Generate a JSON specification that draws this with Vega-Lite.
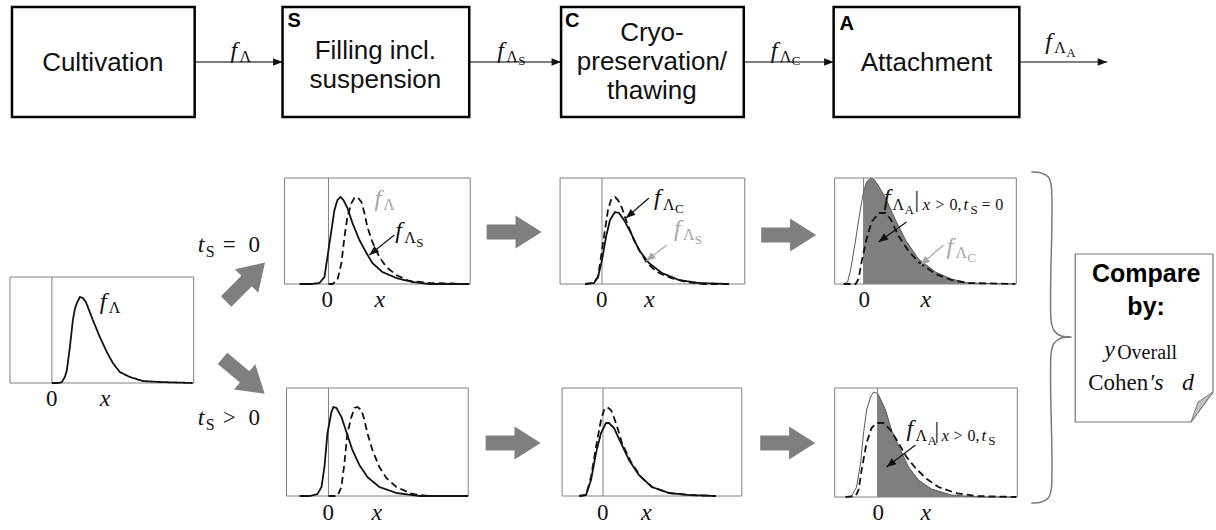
{
"$schema": "https://vega.github.io/schema/vega-lite/v6.json",
"width": 1216, "height": 530,
"autosize": {"type": "fit", "contains": "padding"},
"padding": 0,
"background": "white",
"config": {"view": {"stroke": null}},
"datasets": {
"boxes": [{"x":12,"x2":195,"y":7,"y2":117},{"x":283,"x2":470,"y":7,"y2":117},{"x":562,"x2":745,"y":7,"y2":117},{"x":835,"x2":1021,"y":7,"y2":117}],
"frames": [{"x":10,"x2":194,"y":277,"y2":383},{"x":285,"x2":471,"y":178,"y2":284},{"x":561,"x2":746,"y":178,"y2":284},{"x":836,"x2":1018,"y":178,"y2":284},{"x":287,"x2":469,"y":388,"y2":496},{"x":563,"x2":743,"y":388,"y2":496},{"x":836,"x2":1019,"y":388,"y2":497}],
"zeros": [{"x":52,"y":277,"y2":383},{"x":329,"y":178,"y2":284},{"x":603,"y":178,"y2":284},{"x":865,"y":178,"y2":284},{"x":329,"y":388,"y2":496},{"x":604,"y":388,"y2":496},{"x":879,"y":388,"y2":497}],
"flow": [{"x":195,"x2":283,"y":62,"y2":62},{"x":470,"x2":562,"y":62,"y2":62},{"x":745,"x2":835,"y":62,"y2":62},{"x":1021,"x2":1109,"y":62,"y2":62}],
"heads": [{"x":283,"y":62,"angle":0,"tone":"dark"},{"x":562,"y":62,"angle":0,"tone":"dark"},{"x":835,"y":62,"angle":0,"tone":"dark"},{"x":1109,"y":62,"angle":0,"tone":"dark"},
{"x":370,"y":255,"angle":141,"tone":"dark"},{"x":627,"y":218,"angle":139,"tone":"dark"},{"x":647,"y":261,"angle":143,"tone":"light"},{"x":880,"y":242,"angle":144,"tone":"dark"},{"x":922,"y":265,"angle":139,"tone":"light"},{"x":888,"y":467,"angle":143,"tone":"dark"}],
"pointers": [{"x":395,"y":235,"x2":370,"y2":255,"tone":"dark"},{"x":650,"y":198,"x2":627,"y2":218,"tone":"dark"},{"x":668,"y":245,"x2":647,"y2":261,"tone":"light"},{"x":908,"y":222,"x2":880,"y2":242,"tone":"dark"},{"x":945,"y":245,"x2":922,"y2":265,"tone":"light"},{"x":917,"y":445,"x2":888,"y2":467,"tone":"dark"}],
"bigArrows": [{"x":515,"y":232,"angle":0},{"x":790,"y":235,"angle":0},{"x":514,"y":443,"angle":0},{"x":789,"y":443,"angle":0},{"x":246,"y":282,"angle":-45},{"x":244,"y":376,"angle":40}],
"curves": [
{"id":"L","role":"output","x":52,"y":383},{"id":"L","role":"output","x":58,"y":383},{"id":"L","role":"output","x":62,"y":382},{"id":"L","role":"output","x":65,"y":377},{"id":"L","role":"output","x":67,"y":370},{"id":"L","role":"output","x":70,"y":347},{"id":"L","role":"output","x":73,"y":320},{"id":"L","role":"output","x":75,"y":309},{"id":"L","role":"output","x":77,"y":303},{"id":"L","role":"output","x":80,"y":297},{"id":"L","role":"output","x":83,"y":298},{"id":"L","role":"output","x":86,"y":302},{"id":"L","role":"output","x":88,"y":307},{"id":"L","role":"output","x":93,"y":320},{"id":"L","role":"output","x":100,"y":337},{"id":"L","role":"output","x":107,"y":352},{"id":"L","role":"output","x":113,"y":363},{"id":"L","role":"output","x":120,"y":372},{"id":"L","role":"output","x":130,"y":377},{"id":"L","role":"output","x":143,"y":381},{"id":"L","role":"output","x":160,"y":382},{"id":"L","role":"output","x":193,"y":383},
{"id":"1S_in","role":"input","x":329,"y":284},{"id":"1S_in","role":"input","x":333,"y":284},{"id":"1S_in","role":"input","x":338,"y":280},{"id":"1S_in","role":"input","x":342,"y":263},{"id":"1S_in","role":"input","x":345,"y":237},{"id":"1S_in","role":"input","x":348,"y":217},{"id":"1S_in","role":"input","x":352,"y":203},{"id":"1S_in","role":"input","x":355,"y":198},{"id":"1S_in","role":"input","x":358,"y":197},{"id":"1S_in","role":"input","x":362,"y":202},{"id":"1S_in","role":"input","x":365,"y":213},{"id":"1S_in","role":"input","x":368,"y":227},{"id":"1S_in","role":"input","x":373,"y":242},{"id":"1S_in","role":"input","x":380,"y":257},{"id":"1S_in","role":"input","x":387,"y":267},{"id":"1S_in","role":"input","x":397,"y":275},{"id":"1S_in","role":"input","x":410,"y":281},{"id":"1S_in","role":"input","x":430,"y":283},{"id":"1S_in","role":"input","x":470,"y":284},
{"id":"1S_out","role":"output","x":300,"y":284},{"id":"1S_out","role":"output","x":312,"y":284},{"id":"1S_out","role":"output","x":320,"y":283},{"id":"1S_out","role":"output","x":325,"y":277},{"id":"1S_out","role":"output","x":328,"y":257},{"id":"1S_out","role":"output","x":332,"y":230},{"id":"1S_out","role":"output","x":335,"y":210},{"id":"1S_out","role":"output","x":338,"y":200},{"id":"1S_out","role":"output","x":341,"y":197},{"id":"1S_out","role":"output","x":344,"y":200},{"id":"1S_out","role":"output","x":348,"y":208},{"id":"1S_out","role":"output","x":353,"y":223},{"id":"1S_out","role":"output","x":360,"y":240},{"id":"1S_out","role":"output","x":367,"y":253},{"id":"1S_out","role":"output","x":373,"y":263},{"id":"1S_out","role":"output","x":383,"y":272},{"id":"1S_out","role":"output","x":397,"y":278},{"id":"1S_out","role":"output","x":413,"y":282},{"id":"1S_out","role":"output","x":430,"y":284},{"id":"1S_out","role":"output","x":470,"y":284},
{"id":"1C_in","role":"input","x":586,"y":284},{"id":"1C_in","role":"input","x":594,"y":283},{"id":"1C_in","role":"input","x":599,"y":277},{"id":"1C_in","role":"input","x":602,"y":257},{"id":"1C_in","role":"input","x":606,"y":230},{"id":"1C_in","role":"input","x":609,"y":210},{"id":"1C_in","role":"input","x":612,"y":200},{"id":"1C_in","role":"input","x":616,"y":197},{"id":"1C_in","role":"input","x":619,"y":200},{"id":"1C_in","role":"input","x":623,"y":208},{"id":"1C_in","role":"input","x":628,"y":223},{"id":"1C_in","role":"input","x":635,"y":240},{"id":"1C_in","role":"input","x":642,"y":253},{"id":"1C_in","role":"input","x":648,"y":263},{"id":"1C_in","role":"input","x":658,"y":272},{"id":"1C_in","role":"input","x":672,"y":278},{"id":"1C_in","role":"input","x":688,"y":282},{"id":"1C_in","role":"input","x":705,"y":284},{"id":"1C_in","role":"input","x":730,"y":284},
{"id":"1C_out","role":"output","x":586,"y":284},{"id":"1C_out","role":"output","x":595,"y":283},{"id":"1C_out","role":"output","x":599,"y":277},{"id":"1C_out","role":"output","x":603,"y":260},{"id":"1C_out","role":"output","x":607,"y":237},{"id":"1C_out","role":"output","x":611,"y":220},{"id":"1C_out","role":"output","x":616,"y":212},{"id":"1C_out","role":"output","x":620,"y":213},{"id":"1C_out","role":"output","x":625,"y":220},{"id":"1C_out","role":"output","x":632,"y":233},{"id":"1C_out","role":"output","x":640,"y":250},{"id":"1C_out","role":"output","x":650,"y":263},{"id":"1C_out","role":"output","x":663,"y":273},{"id":"1C_out","role":"output","x":680,"y":280},{"id":"1C_out","role":"output","x":700,"y":283},{"id":"1C_out","role":"output","x":730,"y":284},
{"id":"1A_in","role":"input","x":845,"y":284},{"id":"1A_in","role":"input","x":857,"y":284},{"id":"1A_in","role":"input","x":860,"y":279},{"id":"1A_in","role":"input","x":863,"y":262},{"id":"1A_in","role":"input","x":868,"y":239},{"id":"1A_in","role":"input","x":873,"y":222},{"id":"1A_in","role":"input","x":880,"y":213},{"id":"1A_in","role":"input","x":887,"y":213},{"id":"1A_in","role":"input","x":892,"y":219},{"id":"1A_in","role":"input","x":900,"y":236},{"id":"1A_in","role":"input","x":910,"y":251},{"id":"1A_in","role":"input","x":920,"y":262},{"id":"1A_in","role":"input","x":937,"y":274},{"id":"1A_in","role":"input","x":953,"y":280},{"id":"1A_in","role":"input","x":970,"y":283},{"id":"1A_in","role":"input","x":1017,"y":284},
{"id":"2S_in","role":"input","x":329,"y":496},{"id":"2S_in","role":"input","x":338,"y":496},{"id":"2S_in","role":"input","x":342,"y":487},{"id":"2S_in","role":"input","x":345,"y":463},{"id":"2S_in","role":"input","x":348,"y":433},{"id":"2S_in","role":"input","x":352,"y":417},{"id":"2S_in","role":"input","x":355,"y":408},{"id":"2S_in","role":"input","x":358,"y":407},{"id":"2S_in","role":"input","x":362,"y":410},{"id":"2S_in","role":"input","x":365,"y":420},{"id":"2S_in","role":"input","x":368,"y":433},{"id":"2S_in","role":"input","x":373,"y":450},{"id":"2S_in","role":"input","x":380,"y":467},{"id":"2S_in","role":"input","x":387,"y":478},{"id":"2S_in","role":"input","x":397,"y":487},{"id":"2S_in","role":"input","x":413,"y":494},{"id":"2S_in","role":"input","x":430,"y":496},{"id":"2S_in","role":"input","x":467,"y":496},
{"id":"2S_out","role":"output","x":300,"y":496},{"id":"2S_out","role":"output","x":310,"y":496},{"id":"2S_out","role":"output","x":318,"y":494},{"id":"2S_out","role":"output","x":322,"y":487},{"id":"2S_out","role":"output","x":325,"y":467},{"id":"2S_out","role":"output","x":328,"y":433},{"id":"2S_out","role":"output","x":332,"y":412},{"id":"2S_out","role":"output","x":334,"y":407},{"id":"2S_out","role":"output","x":337,"y":408},{"id":"2S_out","role":"output","x":342,"y":417},{"id":"2S_out","role":"output","x":347,"y":432},{"id":"2S_out","role":"output","x":353,"y":450},{"id":"2S_out","role":"output","x":360,"y":465},{"id":"2S_out","role":"output","x":368,"y":477},{"id":"2S_out","role":"output","x":380,"y":487},{"id":"2S_out","role":"output","x":397,"y":493},{"id":"2S_out","role":"output","x":420,"y":496},{"id":"2S_out","role":"output","x":469,"y":496},
{"id":"2C_in","role":"input","x":580,"y":496},{"id":"2C_in","role":"input","x":587,"y":495},{"id":"2C_in","role":"input","x":592,"y":477},{"id":"2C_in","role":"input","x":597,"y":447},{"id":"2C_in","role":"input","x":602,"y":420},{"id":"2C_in","role":"input","x":605,"y":410},{"id":"2C_in","role":"input","x":608,"y":407},{"id":"2C_in","role":"input","x":612,"y":410},{"id":"2C_in","role":"input","x":617,"y":423},{"id":"2C_in","role":"input","x":623,"y":443},{"id":"2C_in","role":"input","x":632,"y":462},{"id":"2C_in","role":"input","x":642,"y":477},{"id":"2C_in","role":"input","x":653,"y":487},{"id":"2C_in","role":"input","x":670,"y":493},{"id":"2C_in","role":"input","x":690,"y":495},{"id":"2C_in","role":"input","x":717,"y":496},
{"id":"2C_out","role":"output","x":580,"y":496},{"id":"2C_out","role":"output","x":587,"y":495},{"id":"2C_out","role":"output","x":592,"y":480},{"id":"2C_out","role":"output","x":597,"y":453},{"id":"2C_out","role":"output","x":602,"y":433},{"id":"2C_out","role":"output","x":607,"y":423},{"id":"2C_out","role":"output","x":610,"y":423},{"id":"2C_out","role":"output","x":615,"y":428},{"id":"2C_out","role":"output","x":622,"y":443},{"id":"2C_out","role":"output","x":630,"y":460},{"id":"2C_out","role":"output","x":640,"y":475},{"id":"2C_out","role":"output","x":653,"y":487},{"id":"2C_out","role":"output","x":670,"y":493},{"id":"2C_out","role":"output","x":690,"y":495},{"id":"2C_out","role":"output","x":717,"y":496},
{"id":"2A_in","role":"input","x":847,"y":497},{"id":"2A_in","role":"input","x":857,"y":496},{"id":"2A_in","role":"input","x":860,"y":490},{"id":"2A_in","role":"input","x":863,"y":470},{"id":"2A_in","role":"input","x":868,"y":443},{"id":"2A_in","role":"input","x":873,"y":428},{"id":"2A_in","role":"input","x":878,"y":423},{"id":"2A_in","role":"input","x":885,"y":423},{"id":"2A_in","role":"input","x":892,"y":430},{"id":"2A_in","role":"input","x":900,"y":443},{"id":"2A_in","role":"input","x":908,"y":457},{"id":"2A_in","role":"input","x":917,"y":468},{"id":"2A_in","role":"input","x":927,"y":478},{"id":"2A_in","role":"input","x":940,"y":487},{"id":"2A_in","role":"input","x":957,"y":493},{"id":"2A_in","role":"input","x":977,"y":496},{"id":"2A_in","role":"input","x":1018,"y":497}
],
"fulls": [
{"id":"1A","x":845,"y":284},{"id":"1A","x":849,"y":282},{"id":"1A","x":852,"y":270},{"id":"1A","x":857,"y":240},{"id":"1A","x":862,"y":208},{"id":"1A","x":865,"y":192},{"id":"1A","x":868,"y":182},{"id":"1A","x":872,"y":178},{"id":"1A","x":876,"y":180},{"id":"1A","x":880,"y":186},{"id":"1A","x":887,"y":198},{"id":"1A","x":897,"y":220},{"id":"1A","x":907,"y":240},{"id":"1A","x":920,"y":259},{"id":"1A","x":937,"y":272},{"id":"1A","x":953,"y":279},{"id":"1A","x":970,"y":283},{"id":"1A","x":1017,"y":284},
{"id":"2A","x":847,"y":497},{"id":"2A","x":853,"y":496},{"id":"2A","x":858,"y":487},{"id":"2A","x":862,"y":463},{"id":"2A","x":865,"y":433},{"id":"2A","x":868,"y":410},{"id":"2A","x":872,"y":397},{"id":"2A","x":875,"y":392},{"id":"2A","x":878,"y":393},{"id":"2A","x":880,"y":395},{"id":"2A","x":887,"y":410},{"id":"2A","x":893,"y":430},{"id":"2A","x":902,"y":450},{"id":"2A","x":910,"y":467},{"id":"2A","x":920,"y":480},{"id":"2A","x":933,"y":489},{"id":"2A","x":953,"y":495},{"id":"2A","x":980,"y":497},{"id":"2A","x":1018,"y":497}
],
"fills": [
{"id":"1A","x":865,"y":192,"y2":284},{"id":"1A","x":868,"y":182,"y2":284},{"id":"1A","x":872,"y":178,"y2":284},{"id":"1A","x":876,"y":180,"y2":284},{"id":"1A","x":880,"y":186,"y2":284},{"id":"1A","x":887,"y":198,"y2":284},{"id":"1A","x":897,"y":220,"y2":284},{"id":"1A","x":907,"y":240,"y2":284},{"id":"1A","x":920,"y":259,"y2":284},{"id":"1A","x":937,"y":272,"y2":284},{"id":"1A","x":953,"y":279,"y2":284},{"id":"1A","x":970,"y":283,"y2":284},{"id":"1A","x":1017,"y":284,"y2":284},
{"id":"2A","x":879,"y":394,"y2":497},{"id":"2A","x":880,"y":395,"y2":497},{"id":"2A","x":887,"y":410,"y2":497},{"id":"2A","x":893,"y":430,"y2":497},{"id":"2A","x":902,"y":450,"y2":497},{"id":"2A","x":910,"y":467,"y2":497},{"id":"2A","x":920,"y":480,"y2":497},{"id":"2A","x":933,"y":489,"y2":497},{"id":"2A","x":953,"y":495,"y2":497},{"id":"2A","x":980,"y":497,"y2":497},{"id":"2A","x":1018,"y":497,"y2":497}
],
"note": [{"x":1077,"y":254,"y2":422},{"x":1193,"y":254,"y2":422},{"x":1215,"y":254,"y2":392}],
"fold": [{"x":1193,"y":422,"y2":422},{"x":1200,"y":402,"y2":412.5},{"x":1215,"y":392,"y2":392}],
"brace": [{"seq":1,"x":1033,"y":172},{"seq":2,"x":1043,"y":173},{"seq":3,"x":1050,"y":177},{"seq":4,"x":1053,"y":186},{"seq":5,"x":1053,"y":322},{"seq":6,"x":1056,"y":331},{"seq":7,"x":1063,"y":336},{"seq":8,"x":1073,"y":337},{"seq":9,"x":1063,"y":338},{"seq":10,"x":1056,"y":343},{"seq":11,"x":1053,"y":352},{"seq":12,"x":1053,"y":489},{"seq":13,"x":1050,"y":498},{"seq":14,"x":1043,"y":502},{"seq":15,"x":1033,"y":503}],
"boxText": [{"t":"Cultivation","x":103,"y":71},{"t":"Filling incl.","x":376,"y":59},{"t":"suspension","x":376,"y":88},{"t":"Cryo-","x":653,"y":41},{"t":"preservation/","x":653,"y":70},{"t":"thawing","x":653,"y":99},{"t":"Attachment","x":928,"y":71}],
"boxLetters": [{"t":"S","x":288,"y":27},{"t":"C","x":566,"y":27},{"t":"A","x":841,"y":30}],
"noteBold": [{"t":"Compare","x":1148,"y":282},{"t":"by:","x":1148,"y":315}],
"mathItalic": [
{"t":"f","x":231,"y":58,"tone":"dark"},{"t":"f","x":498,"y":58,"tone":"dark"},{"t":"f","x":772,"y":58,"tone":"dark"},{"t":"f","x":1047,"y":49,"tone":"dark"},
{"t":"f","x":100,"y":309,"tone":"dark"},{"t":"f","x":375,"y":206,"tone":"light"},{"t":"f","x":396,"y":238,"tone":"dark"},{"t":"f","x":655,"y":205,"tone":"dark"},{"t":"f","x":675,"y":236,"tone":"light"},{"t":"f","x":885,"y":205,"tone":"dark"},{"t":"f","x":948,"y":254,"tone":"light"},{"t":"f","x":908,"y":436,"tone":"dark"},
{"t":"x","x":100,"y":406,"tone":"dark"},{"t":"x","x":375,"y":307,"tone":"dark"},{"t":"x","x":645,"y":307,"tone":"dark"},{"t":"x","x":922,"y":307,"tone":"dark"},{"t":"x","x":372,"y":520,"tone":"dark"},{"t":"x","x":642,"y":520,"tone":"dark"},{"t":"x","x":922,"y":520,"tone":"dark"},
{"t":"t","x":198,"y":252,"tone":"dark"},{"t":"t","x":198,"y":425,"tone":"dark"},
{"t":"y","x":1106,"y":357,"tone":"dark"},{"t":"′s","x":1151,"y":390,"tone":"dark"},{"t":"d","x":1184,"y":390,"tone":"dark"}
],
"mathRoman": [
{"t":"0","x":46,"y":406,"tone":"dark"},{"t":"0","x":322,"y":307,"tone":"dark"},{"t":"0","x":597,"y":307,"tone":"dark"},{"t":"0","x":860,"y":307,"tone":"dark"},{"t":"0","x":323,"y":520,"tone":"dark"},{"t":"0","x":598,"y":520,"tone":"dark"},{"t":"0","x":874,"y":520,"tone":"dark"},
{"t":"=","x":223,"y":252,"tone":"dark"},{"t":"0","x":249,"y":252,"tone":"dark"},{"t":">","x":223,"y":425,"tone":"dark"},{"t":"0","x":249,"y":425,"tone":"dark"},
{"t":"|","x":916,"y":207,"tone":"dark"},{"t":"|","x":936,"y":438,"tone":"dark"},
{"t":"Cohen","x":1090,"y":390,"tone":"dark"}
],
"sub1": [
{"t":"Λ","x":240,"y":62,"tone":"dark"},{"t":"Λ","x":507,"y":62,"tone":"dark"},{"t":"Λ","x":781,"y":62,"tone":"dark"},{"t":"Λ","x":1056,"y":53,"tone":"dark"},
{"t":"Λ","x":109,"y":313,"tone":"dark"},{"t":"Λ","x":384,"y":210,"tone":"light"},{"t":"Λ","x":405,"y":243,"tone":"dark"},{"t":"Λ","x":664,"y":210,"tone":"dark"},{"t":"Λ","x":684,"y":240,"tone":"light"},{"t":"Λ","x":894,"y":210,"tone":"dark"},{"t":"Λ","x":957,"y":258,"tone":"light"},{"t":"Λ","x":917,"y":441,"tone":"dark"},
{"t":"S","x":206,"y":257,"tone":"dark"},{"t":"S","x":206,"y":430,"tone":"dark"},
{"t":">","x":937,"y":210,"tone":"dark"},{"t":"0,","x":951,"y":210,"tone":"dark"},{"t":"=","x":983,"y":210,"tone":"dark"},{"t":"0","x":997,"y":210,"tone":"dark"},
{"t":">","x":955,"y":441,"tone":"dark"},{"t":"0,","x":969,"y":441,"tone":"dark"}
],
"sub1Italic": [{"t":"x","x":924,"y":210,"tone":"dark"},{"t":"t","x":965,"y":210,"tone":"dark"},{"t":"x","x":943,"y":441,"tone":"dark"},{"t":"t","x":983,"y":441,"tone":"dark"}],
"sub2": [
{"t":"S","x":519,"y":65,"tone":"dark"},{"t":"C","x":793,"y":65,"tone":"dark"},{"t":"A","x":1068,"y":57,"tone":"dark"},
{"t":"S","x":417,"y":247,"tone":"dark"},{"t":"C","x":676,"y":213,"tone":"dark"},{"t":"S","x":696,"y":244,"tone":"light"},{"t":"A","x":906,"y":214,"tone":"dark"},{"t":"C","x":969,"y":262,"tone":"light"},{"t":"A","x":929,"y":445,"tone":"dark"},
{"t":"S","x":972,"y":214,"tone":"dark"},{"t":"S","x":990,"y":445,"tone":"dark"}
],
"noteSub": [{"t":"Overall","x":1119,"y":359,"tone":"dark"}]
},
"encoding": {
"x": {"field": "x", "type": "quantitative", "scale": {"domain": [0, 1216], "nice": false, "zero": false}, "axis": null},
"y": {"field": "y", "type": "quantitative", "scale": {"domain": [0, 530], "nice": false, "zero": false, "reverse": true}, "axis": null}
},
"layer": [
{"data": {"name": "frames"}, "mark": {"type": "rect", "fill": "white", "stroke": "#808080", "strokeWidth": 1}, "encoding": {"x2": {"field": "x2"}, "y2": {"field": "y2"}}},
{"data": {"name": "zeros"}, "mark": {"type": "rule", "color": "#808080", "strokeWidth": 1}, "encoding": {"y2": {"field": "y2"}}},
{"data": {"name": "fills"}, "mark": {"type": "area", "color": "#7f7f7f", "opacity": 1}, "encoding": {"y2": {"field": "y2"}, "detail": {"field": "id"}}},
{"data": {"name": "fulls"}, "mark": {"type": "line", "color": "#5a5a5a", "strokeWidth": 1}, "encoding": {"detail": {"field": "id"}}},
{"data": {"name": "curves"}, "mark": {"type": "line", "color": "#111111", "strokeWidth": 1.8}, "encoding": {"detail": {"field": "id"}, "strokeDash": {"field": "role", "type": "nominal", "scale": {"domain": ["input", "output"], "range": [[7, 4], [1, 0]]}, "legend": null}}},
{"data": {"name": "brace"}, "mark": {"type": "line", "color": "#7a7a7a", "strokeWidth": 1.5, "interpolate": "catmull-rom"}, "encoding": {"order": {"field": "seq", "type": "quantitative"}}},
{"data": {"name": "note"}, "mark": {"type": "area", "fill": "white", "stroke": "#7a7a7a", "strokeWidth": 1.2}, "encoding": {"y2": {"field": "y2"}}},
{"data": {"name": "fold"}, "mark": {"type": "area", "fill": "#c0c0c0", "stroke": "#7a7a7a", "strokeWidth": 1}, "encoding": {"y2": {"field": "y2"}}},
{"data": {"name": "boxes"}, "mark": {"type": "rect", "fill": "white", "fillOpacity": 0, "stroke": "#000000", "strokeWidth": 2.5}, "encoding": {"x2": {"field": "x2"}, "y2": {"field": "y2"}}},
{"data": {"name": "flow"}, "mark": {"type": "rule", "color": "#000000", "strokeWidth": 1.2}, "encoding": {"x2": {"field": "x2"}, "y2": {"field": "y2"}}},
{"data": {"name": "pointers"}, "mark": {"type": "rule", "strokeWidth": 1.2}, "encoding": {"x2": {"field": "x2"}, "y2": {"field": "y2"}, "color": {"field": "tone", "type": "nominal", "scale": {"domain": ["dark", "light"], "range": ["#111111", "#a6a6a6"]}, "legend": null}}},
{"data": {"name": "heads"}, "mark": {"type": "point", "filled": true, "opacity": 1, "size": 90, "shape": "M0,0L-2,-0.8L-2,0.8Z"}, "encoding": {"angle": {"field": "angle", "type": "quantitative", "scale": null}, "color": {"field": "tone", "type": "nominal", "scale": {"domain": ["dark", "light"], "range": ["#111111", "#a6a6a6"]}, "legend": null}}},
{"data": {"name": "bigArrows"}, "mark": {"type": "point", "filled": true, "opacity": 1, "color": "#7f7f7f", "size": 3025, "shape": "M-1,-0.27L0.05,-0.27L0.05,-0.6L1,0L0.05,0.6L0.05,0.27L-1,0.27Z"}, "encoding": {"angle": {"field": "angle", "type": "quantitative", "scale": null}}},
{"data": {"name": "boxText"}, "mark": {"type": "text", "font": "Liberation Sans", "fontSize": 26, "align": "center", "baseline": "alphabetic", "color": "#111111"}, "encoding": {"text": {"field": "t"}}},
{"data": {"name": "boxLetters"}, "mark": {"type": "text", "font": "Liberation Sans", "fontSize": 20, "fontWeight": "bold", "align": "left", "baseline": "alphabetic", "color": "#000000"}, "encoding": {"text": {"field": "t"}}},
{"data": {"name": "noteBold"}, "mark": {"type": "text", "font": "Liberation Sans", "fontSize": 25, "fontWeight": "bold", "align": "center", "baseline": "alphabetic", "color": "#000000"}, "encoding": {"text": {"field": "t"}}},
{"data": {"name": "mathItalic"}, "mark": {"type": "text", "font": "Liberation Serif", "fontSize": 24, "fontStyle": "italic", "align": "left", "baseline": "alphabetic"}, "encoding": {"text": {"field": "t"}, "color": {"field": "tone", "type": "nominal", "scale": {"domain": ["dark", "light"], "range": ["#111111", "#a6a6a6"]}, "legend": null}}},
{"data": {"name": "mathRoman"}, "mark": {"type": "text", "font": "Liberation Serif", "fontSize": 23, "align": "left", "baseline": "alphabetic"}, "encoding": {"text": {"field": "t"}, "color": {"field": "tone", "type": "nominal", "scale": {"domain": ["dark", "light"], "range": ["#111111", "#a6a6a6"]}, "legend": null}}},
{"data": {"name": "sub1"}, "mark": {"type": "text", "font": "Liberation Serif", "fontSize": 16, "align": "left", "baseline": "alphabetic"}, "encoding": {"text": {"field": "t"}, "color": {"field": "tone", "type": "nominal", "scale": {"domain": ["dark", "light"], "range": ["#111111", "#a6a6a6"]}, "legend": null}}},
{"data": {"name": "sub1Italic"}, "mark": {"type": "text", "font": "Liberation Serif", "fontSize": 17, "fontStyle": "italic", "align": "left", "baseline": "alphabetic"}, "encoding": {"text": {"field": "t"}, "color": {"field": "tone", "type": "nominal", "scale": {"domain": ["dark", "light"], "range": ["#111111", "#a6a6a6"]}, "legend": null}}},
{"data": {"name": "sub2"}, "mark": {"type": "text", "font": "Liberation Serif", "fontSize": 13, "align": "left", "baseline": "alphabetic"}, "encoding": {"text": {"field": "t"}, "color": {"field": "tone", "type": "nominal", "scale": {"domain": ["dark", "light"], "range": ["#111111", "#a6a6a6"]}, "legend": null}}},
{"data": {"name": "noteSub"}, "mark": {"type": "text", "font": "Liberation Serif", "fontSize": 20, "align": "left", "baseline": "alphabetic"}, "encoding": {"text": {"field": "t"}, "color": {"field": "tone", "type": "nominal", "scale": {"domain": ["dark", "light"], "range": ["#111111", "#a6a6a6"]}, "legend": null}}}
]
}
